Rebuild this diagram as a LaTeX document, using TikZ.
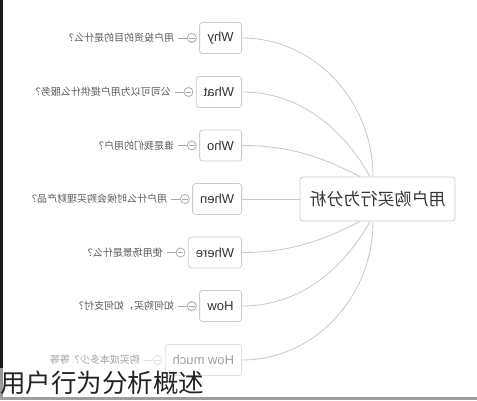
\documentclass[tikz,border=0pt]{standalone}
\usepackage{fontspec}
\setmainfont{Liberation Sans}
\newfontfamily\cjk{Noto Sans CJK SC}
\usepackage{graphicx}
\usetikzlibrary{calc,positioning}
\definecolor{lineg}{HTML}{C8C8C8}
\definecolor{boxg}{HTML}{CCCCCC}
\definecolor{txt}{HTML}{333333}
\definecolor{lblg}{HTML}{585858}
\definecolor{foldg}{HTML}{AAAAAA}
\definecolor{fadet}{HTML}{A0A0A0}
\definecolor{fadeb}{HTML}{E0E0E0}
\definecolor{capc}{HTML}{222222}
\begin{document}
\begin{tikzpicture}[x=1pt,y=-1pt,
 childbox/.style={draw=boxg, line width=0.8pt, rounded corners=3pt, fill=white,
   font=\fontsize{13}{13}\selectfont, text=txt, minimum height=31pt,
   minimum width=42pt, inner xsep=7.5pt, anchor=east},
 mainbox/.style={draw=boxg, line width=0.8pt, rounded corners=3pt, fill=white,
   minimum width=155pt, minimum height=44pt, font=\cjk\fontsize{17}{17}\selectfont, text=txt},
 fold/.style={circle, draw=foldg, minimum size=9pt, inner sep=0pt, line width=0.8pt, left=2.5pt of #1},
 lbl/.style={inner xsep=4pt, font=\cjk\fontsize{10}{10}\selectfont, text=lblg, left=8.5pt of #1},
 conn/.style={draw=lineg, line width=0.8pt},
 tick/.style={draw=foldg, line width=0.8pt},
]
\useasboundingbox (0,0) rectangle (477,400);
% frame bars
\fill[black!90] (0,0) rectangle (3,368);
\fill[black!40] (0,368) rectangle (3,400);
\fill[black!38] (0,396.5) rectangle (477,400);

% main node
\node[mainbox] (m) at (377.5,199) {\reflectbox{用户购买行为分析}};

% children
\node[childbox] (n1) at (242,38)  {\reflectbox{Why}};
\node[childbox] (n2) at (242,92)  {\reflectbox{What}};
\node[childbox] (n3) at (242,145.5) {\reflectbox{Who}};
\node[childbox] (n4) at (242,199) {\reflectbox{When}};
\node[childbox] (n5) at (242,252.5) {\reflectbox{Where}};
\node[childbox] (n6) at (242,306) {\reflectbox{How}};
\node[childbox, draw=fadeb, text=fadet] (n7) at (242,360) {\reflectbox{How much}};

% connectors
\draw[conn] (n1.east) .. controls +(72,0) and +(0,-76) .. ([xshift=-4.5pt]m.north);
\draw[conn] (n2.east) .. controls +(60,0) and +(-25,-45) .. ([xshift=-7.5pt]m.north);
\draw[conn] (n3.east) .. controls +(50,0) and +(-35,-18) .. ([xshift=-17.5pt]m.north);
\draw[conn] (n4.east) -- (m.west);
\draw[conn] (n5.east) .. controls +(50,0) and +(-35,18) .. ([xshift=-17.5pt]m.south);
\draw[conn] (n6.east) .. controls +(60,0) and +(-25,45) .. ([xshift=-7.5pt]m.south);
\draw[conn] (n7.east) .. controls +(72,0) and +(0,76) .. ([xshift=-4.5pt]m.south);

% fold markers and labels
\foreach \i/\t in {1/用户投资的目的是什么？,2/公司可以为用户提供什么服务？,3/谁是我们的用户？,4/用户什么时候会购买理财产品？,5/使用场景是什么？,6/如何购买，如何支付？}{
  \node[fold=n\i] (f\i) {};
  \draw[tick] ([xshift=2pt]f\i.west) -- ([xshift=-2pt]f\i.east);
  \node[lbl=f\i] (l\i) {\reflectbox{\t}};
  \draw[tick] (f\i.west) -- (l\i.east);
}
\node[fold=n7, draw=fadeb] (f7) {};
\draw[tick, draw=fadeb] ([xshift=2pt]f7.west) -- ([xshift=-2pt]f7.east);
\node[lbl=f7, text=fadet] (l7) {\reflectbox{购买成本多少？等等}};
\draw[tick, draw=fadeb] (f7.west) -- (l7.east);

% caption
\node[anchor=base west, inner sep=0pt, font=\cjk\fontsize{25.5}{25.5}\selectfont, text=capc] (cap) at (0,392) {用户行为分析概述};
\end{tikzpicture}
\end{document}
